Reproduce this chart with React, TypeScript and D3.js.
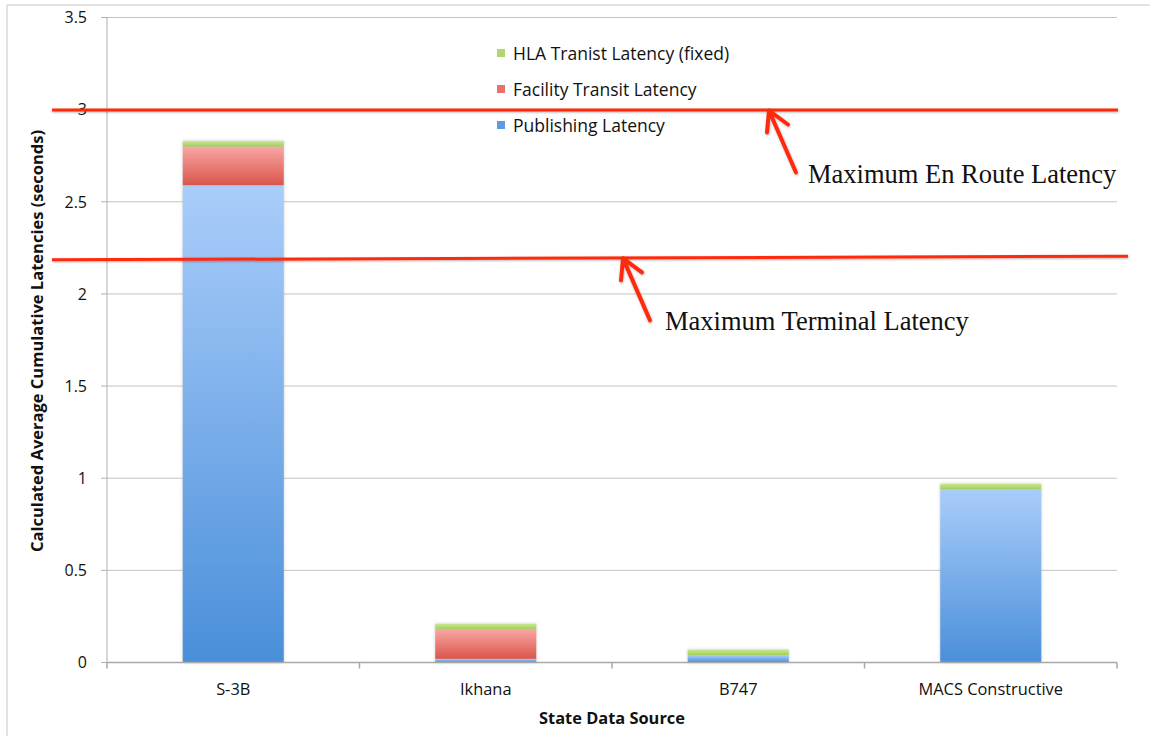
import React from "react";
import * as d3 from "d3";

const categories = ["S-3B", "Ikhana", "B747", "MACS Constructive"];
const publishing = [2.59, 0.02, 0.04, 0.94];
const facility = [0.21, 0.16, 0, 0];
const hla = [0.03, 0.03, 0.03, 0.03];
const yTicks = [0, 0.5, 1, 1.5, 2, 2.5, 3, 3.5];
const seriesNames = ["Publishing Latency", "Facility Transit Latency", "HLA Tranist Latency (fixed)"];
const thresholds = [
  { label: "Maximum En Route Latency", value: 2.998, valueRight: 2.998, x0: 52, x1: 1118, tipX: 769, textX: 808 },
  { label: "Maximum Terminal Latency", value: 2.185, valueRight: 2.205, x0: 52, x1: 1128, tipX: 623, textX: 665 },
];

const W = 1150, H = 736;
const M = { left: 107, right: 1117, top: 17.5, bottom: 662.5 };

const gradients = [
  { id: "gBlue", top: "#aacdfa", bottom: "#4a8fda" },
  { id: "gRed", top: "#f9a6a4", bottom: "#da564b" },
  { id: "gGreen", top: "#cbe891", bottom: "#a0cf58" },
];
const legendColors = ["#5b9be0", "#e8716a", "#b0d86e"];

export default function App() {
  const x = d3.scaleBand().domain(categories).range([M.left, M.right]).paddingInner(0).paddingOuter(0);
  const y = d3.scaleLinear().domain([0, 3.5]).range([M.bottom, M.top]);
  const barW = x.bandwidth() * 0.4;

  const rows = categories.map((c, i) => ({ cat: c, publishing: publishing[i], facility: facility[i], hla: hla[i] }));
  const stack = d3.stack<any>().keys(["publishing", "facility", "hla"])(rows);

  const font = "'Open Sans', Lato, sans-serif";
  const red = "#ff2a0c";

  return (
    <svg width={W} height={H} style={{ position: "absolute", left: 0, top: 0, background: "#fff" }}>
      <defs>
        {gradients.map((g) => (
          <linearGradient key={g.id} id={g.id} x1="0" y1="0" x2="0" y2="1">
            <stop offset="0" stopColor={g.top} />
            <stop offset="1" stopColor={g.bottom} />
          </linearGradient>
        ))}
        <filter id="shadow" x="-20%" y="-20%" width="140%" height="140%">
          <feDropShadow dx="0" dy="0" stdDeviation="1.5" floodColor="#888" floodOpacity="0.45" />
        </filter>
        <filter id="lshadow" filterUnits="userSpaceOnUse" x="0" y="0" width={W} height={H}>
          <feDropShadow dx="0.5" dy="1" stdDeviation="0.8" floodColor="#000" floodOpacity="0.3" />
        </filter>
      </defs>
      {/* outer frame */}
      <line x1={7} y1={5} x2={W} y2={5} stroke="#c8c8c8" strokeWidth={1} />
      <line x1={7} y1={5} x2={7} y2={H} stroke="#c8c8c8" strokeWidth={1} />

      {/* gridlines */}
      {yTicks.filter((t) => t > 0).map((t) => (
        <line key={t} x1={M.left} x2={M.right} y1={y(t)} y2={y(t)} stroke="#c4c4c4" strokeWidth={1} />
      ))}
      {/* y axis */}
      <line x1={M.left} x2={M.left} y1={M.top} y2={M.bottom} stroke="#b0b0b0" strokeWidth={1} />
      {yTicks.map((t) => (
        <g key={"yt" + t}>
          <line x1={M.left - 6} x2={M.left} y1={y(t)} y2={y(t)} stroke="#b0b0b0" strokeWidth={1} />
          <text x={87} y={y(t)} dy="0.36em" textAnchor="end" fontFamily={font} fontSize={16} fill="#111">
            {String(t)}
          </text>
        </g>
      ))}

      {/* bars */}
      {categories.map((c, i) => (
        <g key={c} filter="url(#shadow)">
          {stack.map((s, si) => {
            const d = s[i];
            const h = y(d[0]) - y(d[1]);
            if (h <= 0) return null;
            return (
              <rect
                key={si}
                x={(x(c) as number) + (x.bandwidth() - barW) / 2}
                y={y(d[1])}
                width={barW}
                height={h}
                fill={`url(#${gradients[si].id})`}
              />
            );
          })}
        </g>
      ))}

      {/* x axis */}
      <line x1={M.left} x2={M.right} y1={M.bottom} y2={M.bottom} stroke="#a8a8a8" strokeWidth={1.5} />
      {[...categories.map((c) => x(c) as number), M.right].map((px, i) => (
        <line key={"xt" + i} x1={px} x2={px} y1={M.bottom} y2={M.bottom + 6} stroke="#a8a8a8" strokeWidth={1.5} />
      ))}
      {categories.map((c) => (
        <text key={"xl" + c} x={(x(c) as number) + x.bandwidth() / 2} y={695} textAnchor="middle" fontFamily={font} fontSize={16.4} fill="#111">
          {c}
        </text>
      ))}
      <text x={612} y={724} textAnchor="middle" fontFamily={font} fontSize={16.4} fontWeight="bold" fill="#111">
        State Data Source
      </text>
      <text transform={`translate(43,341) rotate(-90)`} textAnchor="middle" fontFamily={font} fontSize={16.5} fontWeight="bold" fill="#111">
        Calculated Average Cumulative Latencies (seconds)
      </text>

      {/* legend */}
      {[2, 1, 0].map((si, r) => (
        <g key={"lg" + si}>
          <rect x={497} y={60 + r * 36 - 11} width={8} height={8} fill={legendColors[si]} />
          <text x={513} y={60 + r * 36} fontFamily={font} fontSize={17.5} fill="#111">
            {seriesNames[si]}
          </text>
        </g>
      ))}

      {/* threshold lines and arrows */}
      {thresholds.map((t) => {
        const yl = y(t.value);
        const yr = y(t.valueRight);
        const tipY = yl + ((yr - yl) * (t.tipX - t.x0)) / (t.x1 - t.x0) + 0.5;
        const tailX = t.tipX + 27;
        const tailY = tipY + 62;
        const arrow = `M${tailX},${tailY} L${t.tipX},${tipY} M${t.tipX - 2},${tipY + 22} L${t.tipX},${tipY} L${t.tipX + 19},${tipY + 14}`;
        return (
          <g key={t.label}>
            <line x1={t.x0} x2={t.x1} y1={yl} y2={yr} stroke={red} strokeWidth={3} filter="url(#lshadow)" />
            <path d={arrow} fill="none" stroke={red} strokeWidth={4} strokeLinecap="round" strokeLinejoin="round" filter="url(#lshadow)" />
            <text x={t.textX} y={tipY + 72} fontFamily="'Liberation Serif', 'Times New Roman', serif" fontSize={26.5} fill="#111">
              {t.label}
            </text>
          </g>
        );
      })}
    </svg>
  );
}
